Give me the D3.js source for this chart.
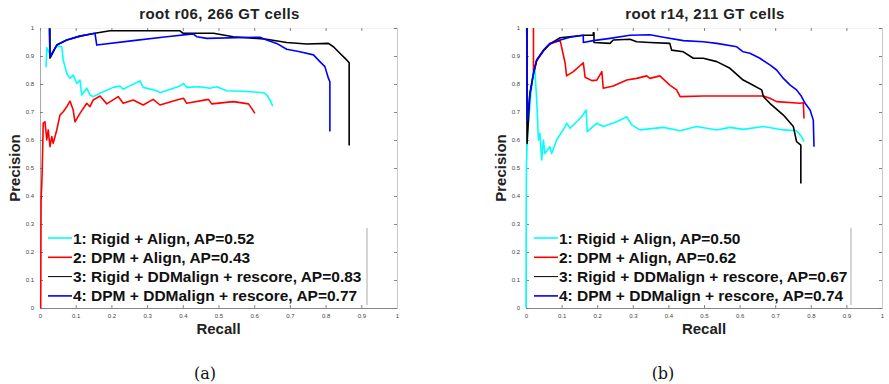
<!DOCTYPE html>
<html>
<head>
<meta charset="utf-8">
<script src="https://cdn.jsdelivr.net/npm/d3@7"></script>
<style>
  body { margin: 0; background: #fff; }
  svg { display: block; font-family: "Liberation Sans", Arial, sans-serif; }
</style>
</head>
<body>
<div id="chart"></div>
<script>
// ---- data: [recall, precision] pairs ----
const titles = ["root r06, 266 GT cells", "root r14, 211 GT cells"];
const captions = ["(a)", "(b)"];
const tickValues = [0, 0.1, 0.2, 0.3, 0.4, 0.5, 0.6, 0.7, 0.8, 0.9, 1];

const legendA = [
  "1: Rigid + Align, AP=0.52",
  "2: DPM + Align, AP=0.43",
  "3: Rigid + DDMalign + rescore, AP=0.83",
  "4: DPM + DDMalign + rescore, AP=0.77"
];
const legendB = [
  "1: Rigid + Align, AP=0.50",
  "2: DPM + Align, AP=0.62",
  "3: Rigid + DDMalign + rescore, AP=0.67",
  "4: DPM + DDMalign + rescore, AP=0.74"
];

// panel (a) root r06
const a_rigidAlign = [
  [0.017, 0.86], [0.019, 0.93], [0.03, 0.90], [0.045, 0.935], [0.061, 0.933],
  [0.065, 0.886], [0.075, 0.838], [0.084, 0.820], [0.093, 0.832], [0.103, 0.802],
  [0.112, 0.814], [0.117, 0.761], [0.131, 0.785], [0.140, 0.761], [0.149, 0.755],
  [0.168, 0.767], [0.205, 0.788], [0.224, 0.793], [0.233, 0.781], [0.243, 0.788],
  [0.280, 0.811], [0.289, 0.788], [0.327, 0.776], [0.336, 0.769], [0.392, 0.793],
  [0.402, 0.802], [0.411, 0.788], [0.448, 0.790], [0.476, 0.785], [0.495, 0.790],
  [0.523, 0.776], [0.579, 0.773], [0.626, 0.769], [0.635, 0.761], [0.644, 0.743],
  [0.652, 0.721]
];
const a_dpmAlign = [
  [0.002, 0.0], [0.003, 0.38], [0.006, 0.48], [0.009, 0.66], [0.014, 0.665],
  [0.019, 0.60], [0.023, 0.636], [0.028, 0.576], [0.033, 0.612], [0.037, 0.588],
  [0.047, 0.636], [0.056, 0.689], [0.065, 0.701], [0.075, 0.719], [0.084, 0.739],
  [0.093, 0.707], [0.098, 0.665], [0.112, 0.695], [0.131, 0.731], [0.140, 0.719],
  [0.149, 0.743], [0.168, 0.757], [0.187, 0.729], [0.219, 0.755], [0.233, 0.731],
  [0.261, 0.743], [0.289, 0.725], [0.317, 0.745], [0.336, 0.725], [0.383, 0.743],
  [0.402, 0.749], [0.411, 0.731], [0.472, 0.745], [0.481, 0.729], [0.542, 0.737],
  [0.584, 0.729], [0.593, 0.713], [0.602, 0.695]
];
const a_rigidDDM = [
  [0.028, 0.999], [0.028, 0.892], [0.047, 0.939], [0.075, 0.957], [0.112, 0.971],
  [0.154, 0.981], [0.196, 0.990], [0.392, 0.990], [0.401, 0.981], [0.486, 0.981],
  [0.541, 0.969], [0.635, 0.960], [0.691, 0.948], [0.747, 0.943], [0.808, 0.945],
  [0.822, 0.933], [0.840, 0.910], [0.859, 0.886], [0.866, 0.876], [0.866, 0.580]
];
const a_dpmDDM = [
  [0.026, 0.999], [0.028, 0.898], [0.047, 0.939], [0.075, 0.957], [0.112, 0.971],
  [0.154, 0.981], [0.159, 0.939], [0.261, 0.955], [0.355, 0.969], [0.429, 0.979],
  [0.439, 0.969], [0.467, 0.963], [0.616, 0.967], [0.635, 0.957], [0.663, 0.945],
  [0.691, 0.924], [0.728, 0.915], [0.766, 0.904], [0.784, 0.880], [0.798, 0.862],
  [0.808, 0.820], [0.812, 0.808], [0.812, 0.630]
];

// panel (b) root r14
const b_rigidAlign = [
  [0.0, 0.0], [0.001, 0.50], [0.004, 0.62], [0.012, 0.74], [0.020, 0.84],
  [0.025, 0.85], [0.030, 0.743], [0.035, 0.600], [0.039, 0.624], [0.044, 0.529],
  [0.049, 0.600], [0.053, 0.552], [0.067, 0.576], [0.072, 0.552], [0.086, 0.600],
  [0.110, 0.648], [0.114, 0.660], [0.124, 0.642], [0.156, 0.683], [0.169, 0.707],
  [0.172, 0.630], [0.199, 0.660], [0.217, 0.648], [0.255, 0.665], [0.283, 0.683],
  [0.297, 0.654], [0.320, 0.636], [0.386, 0.645], [0.433, 0.633], [0.479, 0.648],
  [0.536, 0.636], [0.573, 0.645], [0.610, 0.638], [0.667, 0.648], [0.723, 0.636],
  [0.760, 0.633], [0.774, 0.612], [0.781, 0.594]
];
const b_dpmAlign = [
  [0.021, 1.0], [0.021, 0.845], [0.030, 0.884], [0.049, 0.919], [0.067, 0.943],
  [0.096, 0.955], [0.110, 0.874], [0.114, 0.829], [0.133, 0.844], [0.161, 0.876],
  [0.166, 0.824], [0.185, 0.812], [0.199, 0.814], [0.213, 0.844], [0.217, 0.785],
  [0.245, 0.793], [0.283, 0.814], [0.311, 0.820], [0.339, 0.829], [0.348, 0.820],
  [0.376, 0.829], [0.404, 0.796], [0.423, 0.779], [0.433, 0.755], [0.498, 0.757],
  [0.592, 0.757], [0.667, 0.757], [0.685, 0.749], [0.704, 0.737], [0.770, 0.731],
  [0.779, 0.733], [0.781, 0.677]
];
const b_rigidDDM = [
  [0.003, 1.0], [0.003, 0.588], [0.011, 0.765], [0.021, 0.836], [0.030, 0.884],
  [0.049, 0.919], [0.067, 0.943], [0.096, 0.965], [0.161, 0.974], [0.189, 0.974],
  [0.189, 0.983], [0.191, 0.983], [0.191, 0.948], [0.236, 0.945], [0.245, 0.957],
  [0.292, 0.960], [0.311, 0.951], [0.348, 0.948], [0.404, 0.945], [0.409, 0.921],
  [0.442, 0.915], [0.470, 0.892], [0.498, 0.892], [0.536, 0.880], [0.573, 0.856],
  [0.610, 0.814], [0.629, 0.802], [0.662, 0.779], [0.667, 0.755], [0.685, 0.731],
  [0.723, 0.689], [0.751, 0.648], [0.760, 0.594], [0.772, 0.582], [0.772, 0.445]
];
const b_dpmDDM = [
  [0.002, 1.0], [0.004, 0.671], [0.011, 0.767], [0.021, 0.838], [0.030, 0.886],
  [0.049, 0.921], [0.067, 0.945], [0.096, 0.957], [0.124, 0.967], [0.161, 0.974],
  [0.161, 0.948], [0.189, 0.955], [0.236, 0.963], [0.292, 0.974], [0.348, 0.976],
  [0.386, 0.967], [0.442, 0.955], [0.498, 0.951], [0.536, 0.945], [0.592, 0.933],
  [0.610, 0.915], [0.629, 0.910], [0.657, 0.892], [0.685, 0.868], [0.704, 0.850],
  [0.723, 0.820], [0.742, 0.796], [0.760, 0.779], [0.774, 0.755], [0.784, 0.731],
  [0.798, 0.707], [0.807, 0.671], [0.809, 0.576]
];

const panelSeries = [
  [a_rigidAlign, a_dpmAlign, a_rigidDDM, a_dpmDDM],
  [b_rigidAlign, b_dpmAlign, b_rigidDDM, b_dpmDDM]
];
const panelLegends = [legendA, legendB];
const colors = ["#00ffff", "#ff0000", "#000000", "#0000ff"];

// ---- layout ----
const W = 889, H = 384;
const panels = [
  { left: 40, right: 397, legendRight: 367 },
  { left: 526, right: 882, legendRight: 851 }
];
const plotTop = 28, plotBottom = 308;

const svg = d3.select("#chart").append("svg")
  .attr("width", W)
  .attr("height", H);

panels.forEach((p, i) => {
  const x = d3.scaleLinear().domain([0, 1]).range([p.left, p.right]);
  const y = d3.scaleLinear().domain([0, 1]).range([plotBottom, plotTop]);
  const fmt = d => d === 0 || d === 1 ? String(d) : d.toFixed(1);

  const g = svg.append("g");

  // axes (matlab style inward ticks)
  const styleAxis = (sel, domainColor, showLabels) => {
    sel.select(".domain").attr("stroke", domainColor).attr("stroke-width", 1);
    sel.selectAll(".tick line").attr("stroke", "#666").attr("stroke-width", 0.8);
    sel.selectAll(".tick text")
      .attr("fill", "#444")
      .style("font-size", "6px")
      .style("display", showLabels ? null : "none");
  };

  g.append("g")
    .attr("transform", `translate(0,${plotBottom})`)
    .call(d3.axisBottom(x).tickValues(tickValues).tickSize(-3).tickPadding(6).tickFormat(fmt))
    .call(s => styleAxis(s, "#888", true));

  g.append("g")
    .attr("transform", `translate(${p.left},0)`)
    .call(d3.axisLeft(y).tickValues(tickValues).tickSize(-3).tickPadding(6).tickFormat(fmt))
    .call(s => styleAxis(s, "#aaa", true));

  g.append("g")
    .attr("transform", `translate(0,${plotTop})`)
    .call(d3.axisTop(x).tickValues(tickValues).tickSize(-3).tickFormat(""))
    .call(s => styleAxis(s, "#f2f2f2", false));

  g.append("g")
    .attr("transform", `translate(${p.right},0)`)
    .call(d3.axisRight(y).tickValues(tickValues).tickSize(-3).tickFormat(""))
    .call(s => styleAxis(s, "#ccc", false));

  // curves
  const line = d3.line()
    .x(d => x(d[0]))
    .y(d => y(d[1]));

  panelSeries[i].forEach((data, k) => {
    g.append("path")
      .datum(data)
      .attr("fill", "none")
      .attr("stroke", colors[k])
      .attr("stroke-width", 1.6)
      .attr("stroke-linejoin", "round")
      .attr("d", line);
  });

  // title and axis labels
  const cx = (p.left + p.right) / 2;
  g.append("text")
    .attr("x", cx + 1)
    .attr("y", 19)
    .attr("text-anchor", "middle")
    .style("font-size", "15px")
    .style("font-weight", "bold")
    .style("letter-spacing", "0.4px")
    .attr("fill", "#222")
    .text(titles[i]);

  g.append("text")
    .attr("x", cx)
    .attr("y", 334)
    .attr("text-anchor", "middle")
    .style("font-size", "15px")
    .style("font-weight", "bold")
    .attr("fill", "#222")
    .text("Recall");

  g.append("text")
    .attr("transform", `translate(${p.left - 20},${(plotTop + plotBottom) / 2}) rotate(-90)`)
    .attr("text-anchor", "middle")
    .style("font-size", "15px")
    .style("font-weight", "bold")
    .attr("fill", "#222")
    .text("Precision");

  // legend
  const lg = g.append("g");
  lg.append("line")
    .attr("x1", p.legendRight).attr("x2", p.legendRight)
    .attr("y1", 228).attr("y2", 305)
    .attr("stroke", "#aaa")
    .attr("stroke-width", 1);

  panelLegends[i].forEach((label, k) => {
    const yy = 238 + k * 19.3;
    lg.append("line")
      .attr("x1", p.left + 8).attr("x2", p.left + 32)
      .attr("y1", yy).attr("y2", yy)
      .attr("stroke", colors[k])
      .attr("stroke-width", k === 2 ? 1 : 1.6);
    lg.append("text")
      .attr("x", p.left + 33)
      .attr("y", yy + 5.5)
      .style("font-size", "15.5px")
      .style("font-weight", "bold")
      .attr("fill", "#111")
      .text(label);
  });

  // caption
  svg.append("text")
    .attr("x", i === 0 ? 205 : 663)
    .attr("y", 379)
    .attr("text-anchor", "middle")
    .style("font-family", "'DejaVu Serif', 'Liberation Serif', serif")
    .style("font-size", "16px")
    .attr("fill", "#111")
    .text(captions[i]);
});
</script>
</body>
</html>
